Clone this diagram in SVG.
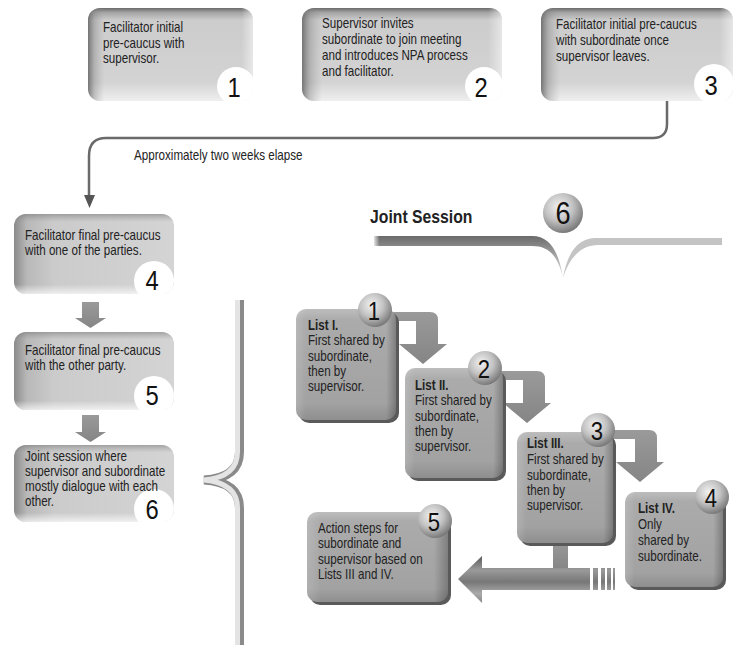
<svg xmlns="http://www.w3.org/2000/svg" width="737" height="649" viewBox="0 0 737 649">
<style>
.t{font-family:'Liberation Sans',Arial,sans-serif;font-size:14px;fill:#222}
.b{font-weight:bold}
.n{font-family:'Liberation Sans',Arial,sans-serif;font-size:28px;fill:#111;text-anchor:middle}
.cn{font-family:'Liberation Sans',Arial,sans-serif;font-size:26px;fill:#111;text-anchor:middle}
.conn{fill:none;stroke:#6a6a6a;stroke-width:2.5}
.blk{fill:url(#blkG)}
</style>
<defs>
<linearGradient id="topG" x1="0" y1="0" x2="0" y2="1">
<stop offset="0" stop-color="#6a6a6a"/><stop offset="0.05" stop-color="#a5a5a5"/><stop offset="0.13" stop-color="#cccccc"/><stop offset="0.8" stop-color="#d3d3d3"/><stop offset="1" stop-color="#efefef"/>
</linearGradient>
<linearGradient id="leftEdge" x1="0" y1="0" x2="1" y2="0">
<stop offset="0" stop-color="#555" stop-opacity="0.75"/><stop offset="0.04" stop-color="#777" stop-opacity="0.35"/><stop offset="0.1" stop-color="#999" stop-opacity="0"/><stop offset="0.93" stop-color="#fff" stop-opacity="0"/><stop offset="1" stop-color="#fff" stop-opacity="0.5"/>
</linearGradient>
<linearGradient id="sideG" x1="0" y1="0" x2="1" y2="0">
<stop offset="0" stop-color="#8a8a8a"/><stop offset="0.08" stop-color="#b8b8b8"/><stop offset="0.25" stop-color="#cbcbcb"/><stop offset="1" stop-color="#d4d4d4"/>
</linearGradient>
<linearGradient id="sideV" x1="0" y1="0" x2="0" y2="1">
<stop offset="0" stop-color="#666" stop-opacity="0.45"/><stop offset="0.1" stop-color="#888" stop-opacity="0"/><stop offset="0.88" stop-color="#fff" stop-opacity="0"/><stop offset="1" stop-color="#fff" stop-opacity="0.7"/>
</linearGradient>
<linearGradient id="listG" x1="0" y1="0" x2="0" y2="1">
<stop offset="0" stop-color="#bdbdbd"/><stop offset="0.1" stop-color="#ababab"/><stop offset="0.85" stop-color="#a2a2a2"/><stop offset="1" stop-color="#8e8e8e"/>
</linearGradient>
<linearGradient id="listH" x1="0" y1="0" x2="1" y2="0">
<stop offset="0" stop-color="#fff" stop-opacity="0.15"/><stop offset="0.1" stop-color="#fff" stop-opacity="0"/><stop offset="0.9" stop-color="#000" stop-opacity="0"/><stop offset="1" stop-color="#000" stop-opacity="0.25"/>
</linearGradient>
<radialGradient id="ballG" cx="0.4" cy="0.35" r="0.7">
<stop offset="0" stop-color="#f2f2f2"/><stop offset="0.5" stop-color="#c2c2c2"/><stop offset="1" stop-color="#707070"/>
</radialGradient>
<linearGradient id="blkG" x1="0" y1="0" x2="0" y2="1">
<stop offset="0" stop-color="#9a9a9a"/><stop offset="1" stop-color="#858585"/>
</linearGradient>
<linearGradient id="bigArr" x1="0" y1="0" x2="0" y2="1">
<stop offset="0" stop-color="#5a5a5a"/><stop offset="0.3" stop-color="#9a9a9a"/><stop offset="0.55" stop-color="#777"/><stop offset="0.8" stop-color="#aaa"/><stop offset="1" stop-color="#888"/>
</linearGradient>
<linearGradient id="barL" x1="0" y1="0" x2="0" y2="1">
<stop offset="0" stop-color="#6a6a6a"/><stop offset="0.5" stop-color="#a8a8a8"/><stop offset="1" stop-color="#e2e2e2"/>
</linearGradient>
<linearGradient id="barFade" x1="0" y1="0" x2="1" y2="0">
<stop offset="0" stop-color="#fff" stop-opacity="0.8"/><stop offset="0.12" stop-color="#fff" stop-opacity="0"/>
</linearGradient>
<clipPath id="c1"><rect x="88" y="8" width="165" height="93" rx="12"/></clipPath>
<clipPath id="c2"><rect x="302" y="8" width="200" height="93" rx="12"/></clipPath>
<clipPath id="c3"><rect x="541" y="8" width="192" height="93" rx="12"/></clipPath>
<clipPath id="c4"><rect x="14" y="214" width="160" height="80" rx="12"/></clipPath>
<clipPath id="c5"><rect x="14" y="332" width="160" height="78" rx="12"/></clipPath>
<clipPath id="c6"><rect x="14" y="445" width="160" height="77" rx="12"/></clipPath>
</defs>
<rect width="737" height="649" fill="#fff"/>

<g id="connectors">
<path class="conn" d="M667,101 V124 Q667,138 653,138 H106 Q89,138 89,156 V196"/>
<path d="M84,195 H95 L89.5,208 Z" fill="#555"/>
<path class="blk" d="M82,302 H99 V318 H106 L90.5,328 L75,318 H82 Z"/>
<path class="blk" d="M82,415 H99 V432 H106 L90.5,442 L75,432 H82 Z"/>
<path class="blk" d="M392,312 H430 Q438,312 438,320 V344 H447 L423,364 L399,344 H416 V321 H392 Z"/>
<path class="blk" d="M500,371 H537 Q545,371 545,379 V403 H551 L527,423 L503,403 H523 V380 H500 Z"/>
<path class="blk" d="M612,430 H649 Q657,430 657,438 V462 H664 L640,482 L616,462 H635 V439 H612 Z"/>
<rect class="blk" x="553" y="540" width="15" height="30"/>
<path d="M615,568 H482 V556 L458,579 L482,603 V590 H615 Z" fill="url(#bigArr)"/>
<rect x="590" y="568" width="3" height="22" fill="#fff"/>
<rect x="598" y="568" width="3" height="22" fill="#fff"/>
<rect x="605" y="568" width="2" height="22" fill="#fff"/>
<rect x="611" y="568" width="2" height="22" fill="#fff"/>
</g>

<g id="label-weeks" transform="translate(134,0) scale(0.83,1)"><text class="t" x="0" y="160">Approximately two weeks elapse</text></g>

<g id="node1">
<rect x="88" y="8" width="165" height="93" rx="12" fill="url(#topG)"/>
<rect x="88" y="8" width="165" height="93" rx="12" fill="url(#leftEdge)"/>
<circle cx="236" cy="86" r="19" fill="#fff" clip-path="url(#c1)"/>
<g transform="translate(103,0) scale(0.83,1)">
<text class="t" x="0" y="32">Facilitator initial</text>
<text class="t" x="0" y="48">pre-caucus with</text>
<text class="t" x="0" y="63">supervisor.</text>
</g>
<g transform="translate(234,0) scale(0.85,1)"><text class="n" x="0" y="97">1</text></g>
</g>
<g id="node2">
<rect x="302" y="8" width="200" height="93" rx="12" fill="url(#topG)"/>
<rect x="302" y="8" width="200" height="93" rx="12" fill="url(#leftEdge)"/>
<circle cx="484" cy="86" r="19" fill="#fff" clip-path="url(#c2)"/>
<g transform="translate(322,0) scale(0.83,1)">
<text class="t" x="0" y="28">Supervisor invites</text>
<text class="t" x="0" y="44">subordinate to join meeting</text>
<text class="t" x="0" y="60">and introduces NPA process</text>
<text class="t" x="0" y="76">and facilitator.</text>
</g>
<g transform="translate(481,0) scale(0.85,1)"><text class="n" x="0" y="97">2</text></g>
</g>
<g id="node3">
<rect x="541" y="8" width="192" height="93" rx="12" fill="url(#topG)"/>
<rect x="541" y="8" width="192" height="93" rx="12" fill="url(#leftEdge)"/>
<circle cx="714" cy="84" r="20" fill="#fff" clip-path="url(#c3)"/>
<g transform="translate(556,0) scale(0.83,1)">
<text class="t" x="0" y="29">Facilitator initial pre-caucus</text>
<text class="t" x="0" y="45">with subordinate once</text>
<text class="t" x="0" y="61">supervisor leaves.</text>
</g>
<g transform="translate(711,0) scale(0.85,1)"><text class="n" x="0" y="95">3</text></g>
</g>

<g id="node4">
<rect x="14" y="214" width="160" height="80" rx="12" fill="url(#sideG)"/>
<rect x="14" y="214" width="160" height="80" rx="12" fill="url(#sideV)"/>
<circle cx="154" cy="281" r="20" fill="#fff" clip-path="url(#c4)"/>
<g transform="translate(25,0) scale(0.83,1)">
<text class="t" x="0" y="240">Facilitator final pre-caucus</text>
<text class="t" x="0" y="255">with one of the parties.</text>
</g>
<g transform="translate(152,0) scale(0.85,1)"><text class="n" x="0" y="290">4</text></g>
</g>
<g id="node5">
<rect x="14" y="332" width="160" height="78" rx="12" fill="url(#sideG)"/>
<rect x="14" y="332" width="160" height="78" rx="12" fill="url(#sideV)"/>
<circle cx="154" cy="396" r="20" fill="#fff" clip-path="url(#c5)"/>
<g transform="translate(25,0) scale(0.83,1)">
<text class="t" x="0" y="355">Facilitator final pre-caucus</text>
<text class="t" x="0" y="370">with the other party.</text>
</g>
<g transform="translate(152,0) scale(0.85,1)"><text class="n" x="0" y="405">5</text></g>
</g>
<g id="node6">
<rect x="14" y="445" width="160" height="77" rx="12" fill="url(#sideG)"/>
<rect x="14" y="445" width="160" height="77" rx="12" fill="url(#sideV)"/>
<circle cx="154" cy="509" r="20" fill="#fff" clip-path="url(#c6)"/>
<g transform="translate(25,0) scale(0.83,1)">
<text class="t" x="0" y="461">Joint session where</text>
<text class="t" x="0" y="476">supervisor and subordinate</text>
<text class="t" x="0" y="491">mostly dialogue with each</text>
<text class="t" x="0" y="506">other.</text>
</g>
<g transform="translate(152,0) scale(0.85,1)"><text class="n" x="0" y="519">6</text></g>
</g>

<g id="brace">
<path d="M239.5,300 V452 Q239.5,478 204,480 Q239.5,482 239.5,508 V645" fill="none" stroke="#8a8a8a" stroke-width="9"/>
<path d="M237.5,300 V452 Q237.5,477 204,480 Q237.5,483 237.5,508 V645" fill="none" stroke="#e4e4e4" stroke-width="5"/>
</g>

<g id="joint-session">
<g transform="translate(370,0) scale(0.83,1)"><text class="t b" x="0" y="223" style="font-size:19px">Joint Session</text></g>
<path d="M374,236 H532 C550,236 559,252 563,278 C558,256 549,246 532,246 H374 Z" fill="url(#barL)"/>
<path d="M374,236 H420 V246 H374 Z" fill="url(#barFade)"/>
<path d="M563,278 C567,254 577,238 596,238 H722 V245 H598 C582,245 570,256 563,278 Z" fill="#c4c4c4"/>
<circle cx="563" cy="213" r="20" fill="url(#ballG)"/>
<g transform="translate(563,0) scale(0.85,1)"><text class="n" x="0" y="224" style="font-size:32px">6</text></g>
</g>

<g id="list1">
<rect x="299" y="312" width="100" height="111" rx="10" fill="#5a5a5a"/>
<rect x="296" y="309" width="100" height="111" rx="10" fill="url(#listG)"/>
<rect x="296" y="309" width="100" height="111" rx="10" fill="url(#listH)"/>
<g transform="translate(308,0) scale(0.83,1)">
<text class="t b" x="0" y="330">List I.</text>
<text class="t" x="0" y="345">First shared by</text>
<text class="t" x="0" y="361">subordinate,</text>
<text class="t" x="0" y="376">then by</text>
<text class="t" x="0" y="391">supervisor.</text>
</g>
<circle cx="375" cy="310" r="17" fill="url(#ballG)"/>
<g transform="translate(374,0) scale(0.85,1)"><text class="cn" x="0" y="320">1</text></g>
</g>
<g id="list2">
<rect x="408" y="371" width="98" height="110" rx="10" fill="#5a5a5a"/>
<rect x="405" y="368" width="98" height="110" rx="10" fill="url(#listG)"/>
<rect x="405" y="368" width="98" height="110" rx="10" fill="url(#listH)"/>
<g transform="translate(415,0) scale(0.83,1)">
<text class="t b" x="0" y="390">List II.</text>
<text class="t" x="0" y="405">First shared by</text>
<text class="t" x="0" y="421">subordinate,</text>
<text class="t" x="0" y="436">then by</text>
<text class="t" x="0" y="451">supervisor.</text>
</g>
<circle cx="485" cy="368" r="17" fill="url(#ballG)"/>
<g transform="translate(484,0) scale(0.85,1)"><text class="cn" x="0" y="378">2</text></g>
</g>
<g id="list3">
<rect x="520" y="435" width="96" height="111" rx="10" fill="#5a5a5a"/>
<rect x="517" y="432" width="96" height="111" rx="10" fill="url(#listG)"/>
<rect x="517" y="432" width="96" height="111" rx="10" fill="url(#listH)"/>
<g transform="translate(527,0) scale(0.83,1)">
<text class="t b" x="0" y="448">List III.</text>
<text class="t" x="0" y="464">First shared by</text>
<text class="t" x="0" y="480">subordinate,</text>
<text class="t" x="0" y="495">then by</text>
<text class="t" x="0" y="510">supervisor.</text>
</g>
<circle cx="598" cy="430" r="17" fill="url(#ballG)"/>
<g transform="translate(597,0) scale(0.85,1)"><text class="cn" x="0" y="440">3</text></g>
</g>
<g id="list4">
<rect x="628" y="495" width="98" height="95" rx="10" fill="#5a5a5a"/>
<rect x="625" y="492" width="98" height="95" rx="10" fill="url(#listG)"/>
<rect x="625" y="492" width="98" height="95" rx="10" fill="url(#listH)"/>
<g transform="translate(638,0) scale(0.83,1)">
<text class="t b" x="0" y="513">List IV.</text>
<text class="t" x="0" y="529">Only</text>
<text class="t" x="0" y="545">shared by</text>
<text class="t" x="0" y="561">subordinate.</text>
</g>
<circle cx="712" cy="497" r="17" fill="url(#ballG)"/>
<g transform="translate(711,0) scale(0.85,1)"><text class="cn" x="0" y="507">4</text></g>
</g>
<g id="list5">
<rect x="310" y="515" width="141" height="90" rx="10" fill="#5a5a5a"/>
<rect x="307" y="512" width="141" height="90" rx="10" fill="url(#listG)"/>
<rect x="307" y="512" width="141" height="90" rx="10" fill="url(#listH)"/>
<g transform="translate(318,0) scale(0.83,1)">
<text class="t" x="0" y="533">Action steps for</text>
<text class="t" x="0" y="548">subordinate and</text>
<text class="t" x="0" y="564">supervisor based on</text>
<text class="t" x="0" y="579">Lists III and IV.</text>
</g>
<circle cx="435" cy="521" r="17" fill="url(#ballG)"/>
<g transform="translate(434,0) scale(0.85,1)"><text class="cn" x="0" y="531">5</text></g>
</g>
</svg>
